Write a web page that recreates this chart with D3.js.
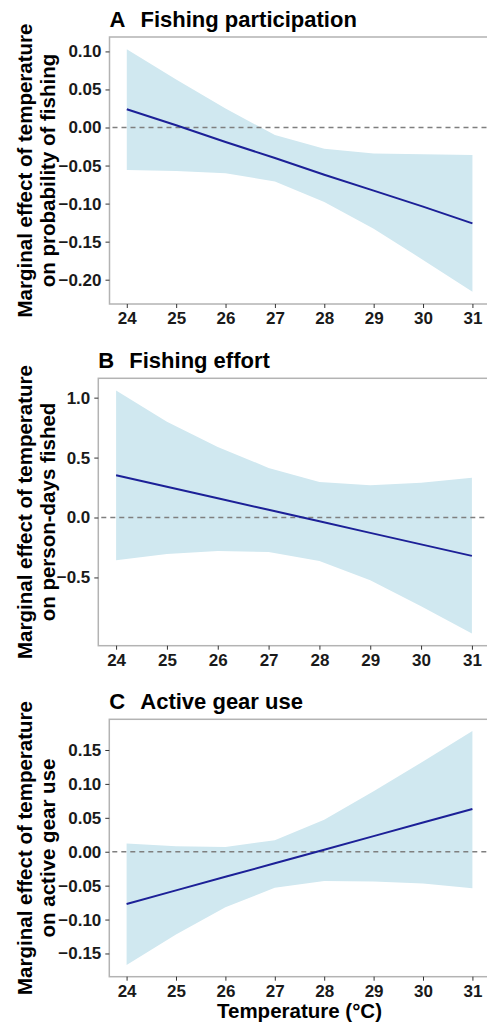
<!DOCTYPE html>
<html>
<head>
<meta charset="utf-8">
<script src="https://cdn.jsdelivr.net/npm/d3@7"></script>
<style>
  body { margin: 0; background: #fff; }
  text { font-family: "Liberation Sans", Arial, sans-serif; font-weight: bold; }
</style>
</head>
<body>
<div id="chart"></div>
<script>
// temperatures (°C) at which the marginal effects were estimated
const temps = [24, 25, 26, 27, 28, 29, 30, 31];

// A: fishing participation
const partFit  = [0.024, 0.003, -0.019, -0.040, -0.062, -0.083, -0.104, -0.126];
const partLow  = [-0.056, -0.057, -0.060, -0.071, -0.098, -0.133, -0.174, -0.216];
const partHigh = [0.103, 0.063, 0.025, -0.010, -0.028, -0.034, -0.035, -0.036];

// B: fishing effort
const effFit  = [0.353, 0.257, 0.161, 0.064, -0.032, -0.128, -0.224, -0.320];
const effLow  = [-0.356, -0.304, -0.279, -0.287, -0.362, -0.523, -0.740, -0.968];
const effHigh = [1.060, 0.798, 0.589, 0.414, 0.297, 0.270, 0.289, 0.331];

// C: active gear use
const gearFit  = [-0.077, -0.057, -0.037, -0.017, 0.003, 0.023, 0.043, 0.063];
const gearLow  = [-0.167, -0.122, -0.082, -0.053, -0.043, -0.044, -0.047, -0.054];
const gearHigh = [0.012, 0.008, 0.007, 0.017, 0.047, 0.089, 0.133, 0.178];

const partTicks = [-0.20, -0.15, -0.10, -0.05, 0.00, 0.05, 0.10];
const effTicks  = [-0.5, 0.0, 0.5, 1.0];
const gearTicks = [-0.15, -0.10, -0.05, 0.00, 0.05, 0.10, 0.15];

const panels = [
  {tag: "A", title: "Fishing participation", ylab2: "on probability of fishing",
   fit: partFit, low: partLow, high: partHigh, ticks: partTicks, fmt: ".2f",
   left: 109.5, top: 37, bottom: 304},
  {tag: "B", title: "Fishing effort", ylab2: "on person-days fished",
   fit: effFit, low: effLow, high: effHigh, ticks: effTicks, fmt: ".1f",
   left: 98.3, top: 378.3, bottom: 645.7},
  {tag: "C", title: "Active gear use", ylab2: "on active gear use",
   fit: gearFit, low: gearLow, high: gearHigh, ticks: gearTicks, fmt: ".2f",
   left: 109.3, top: 719.3, bottom: 976.7}
];

const W = 487, H = 1022, right = 489.7;

const svg = d3.select("#chart")
  .append("svg")
    .attr("width", W)
    .attr("height", H);

panels.forEach(p => {
  const rows = temps.map((t, i) => ({t: t, fit: p.fit[i], low: p.low[i], high: p.high[i]}));

  // ggplot-like 5% expansion
  const xr = d3.extent(temps), xpad = (xr[1] - xr[0]) * 0.05;
  const x = d3.scaleLinear().domain([xr[0] - xpad, xr[1] + xpad]).range([p.left, right]);
  const ylo = d3.min(p.low), yhi = d3.max(p.high), ypad = (yhi - ylo) * 0.05;
  const y = d3.scaleLinear().domain([ylo - ypad, yhi + ypad]).range([p.bottom, p.top]);

  const g = svg.append("g");

  // confidence ribbon
  g.append("path")
    .datum(rows)
    .attr("fill", "#d0e8f0")
    .attr("d", d3.area().x(d => x(d.t)).y0(d => y(d.low)).y1(d => y(d.high)));

  // zero reference
  g.append("line")
    .attr("x1", p.left + 3).attr("x2", W)
    .attr("y1", y(0)).attr("y2", y(0))
    .attr("stroke", "#7f7f7f")
    .attr("stroke-width", 1.3)
    .attr("stroke-dasharray", "5,4");

  // fitted line
  g.append("path")
    .datum(rows)
    .attr("fill", "none")
    .attr("stroke", "#1c2097")
    .attr("stroke-width", 2)
    .attr("d", d3.line().x(d => x(d.t)).y(d => y(d.fit)));

  // panel frame
  g.append("rect")
    .attr("x", p.left).attr("y", p.top)
    .attr("width", right - p.left).attr("height", p.bottom - p.top)
    .attr("fill", "none")
    .attr("stroke", "#b3b3b3")
    .attr("stroke-width", 1.5);

  const fmt = d3.format(p.fmt);
  const minus = v => fmt(v).replace("-", "\u2212");

  // y axis
  const ya = g.append("g")
    .attr("transform", `translate(${p.left},0)`)
    .call(d3.axisLeft(y).tickValues(p.ticks).tickFormat(minus).tickSize(4).tickPadding(4));
  ya.select(".domain").remove();
  ya.selectAll("line").attr("stroke", "#333");
  ya.selectAll("text").attr("font-size", 17).attr("fill", "#1a1a1a")
    .attr("font-family", "Liberation Sans, Arial, sans-serif");

  // x axis
  const xa = g.append("g")
    .attr("transform", `translate(0,${p.bottom})`)
    .call(d3.axisBottom(x).tickValues(temps).tickFormat(d3.format("d")).tickSize(4).tickPadding(4));
  xa.select(".domain").remove();
  xa.selectAll("line").attr("stroke", "#333");
  xa.selectAll("text").attr("font-size", 17).attr("fill", "#1a1a1a")
    .attr("font-family", "Liberation Sans, Arial, sans-serif");

  // panel tag and title
  g.append("text")
    .attr("x", p.left).attr("y", p.top - 10)
    .attr("font-size", 22)
    .text(p.tag);
  g.append("text")
    .attr("x", p.left + 31).attr("y", p.top - 10)
    .attr("font-size", 22)
    .text(p.title);

  // y title, two lines
  const cy = (p.top + p.bottom) / 2;
  [["Marginal effect of temperature", 32], [p.ylab2, 55]].forEach(([s, bx]) => {
    g.append("text")
      .attr("transform", `translate(${bx},${cy})rotate(-90)`)
      .attr("text-anchor", "middle")
      .attr("font-size", 20.5)
      .text(s);
  });

  if (p.tag === "C") {
    g.append("text")
      .attr("x", (p.left + right) / 2).attr("y", 1018)
      .attr("text-anchor", "middle")
      .attr("font-size", 20.5)
      .text("Temperature (°C)");
  }
});
</script>
</body>
</html>
